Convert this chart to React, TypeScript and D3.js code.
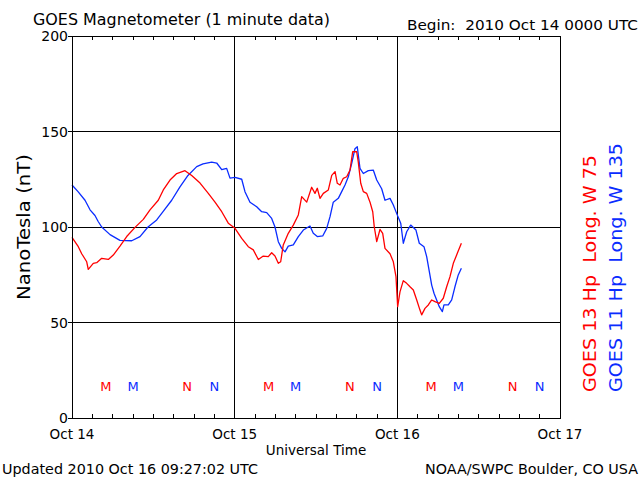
import React from "react";
import * as d3 from "d3";

// Hours since 2010 Oct 14 00:00 UTC and field values (nT)
const g13Hours = [0, 0.93, 1.43, 2.17, 2.4, 3.14, 3.64, 4.38, 5.36, 6.09, 7.08, 8.07, 9.3, 10.52, 11.51, 12.73, 13.47, 14.46, 15.45, 16.67, 17.66, 18.89, 20.11, 21.1, 22.09, 23.06, 24.05, 25.04, 26.01, 26.75, 27.49, 28.22, 28.96, 29.46, 29.95, 30.44, 30.79, 31.17, 31.91, 32.65, 33.39, 33.89, 34.63, 35.36, 35.85, 36.19, 36.59, 37.08, 37.82, 38.32, 38.81, 39.14, 39.54, 40.03, 40.53, 41.02, 41.41, 42.0, 42.24, 42.6, 42.98, 43.48, 43.97, 44.37, 44.6, 44.96, 45.44, 45.84, 46.18, 46.92, 47.41, 47.8, 48.05, 48.39, 48.88, 49.38, 49.87, 50.36, 50.86, 51.34, 51.59, 52.08, 52.57, 53.07, 53.56, 54.19, 54.78, 55.28, 55.77, 56.26, 56.85, 57.45];
const g13Values = [94.6, 89.7, 86, 81.8, 77.8, 81, 81.3, 83.6, 83, 85.3, 90, 95, 99.8, 104, 109, 114, 119.4, 124.6, 128, 129.5, 127, 123, 117.6, 113, 108, 102, 99.3, 94, 89.7, 88, 83, 84.8, 84.5, 86.5, 84.8, 81, 81.8, 90.6, 96.7, 101, 106.3, 115.9, 113, 120.8, 117.6, 120.3, 115, 117.6, 119.4, 127, 129, 122.9, 122, 125.5, 126.3, 129.8, 139.4, 139.4, 134, 122.9, 118.5, 117.6, 113, 108, 100, 92.3, 98.7, 96.7, 88.8, 86, 81.8, 74, 58.3, 66, 71.9, 70.5, 68.7, 67, 61.8, 56.5, 54, 57.4, 59.2, 61.8, 60.9, 60, 62.7, 68.7, 74, 81, 86.2, 91.5];

const g11Hours = [0, 0.89, 1.92, 2.66, 3.39, 3.84, 4.38, 5.61, 7.08, 8.81, 10.03, 11.21, 12.5, 13.43, 14.71, 15.93, 17.11, 18.4, 19.33, 20.61, 21.35, 22.09, 22.82, 23.31, 24.05, 25.04, 25.52, 26.26, 27.25, 27.99, 28.73, 29.46, 29.95, 30.44, 30.94, 31.43, 31.91, 32.65, 33.39, 34.13, 35.11, 35.6, 36.19, 36.99, 37.58, 38.07, 38.55, 39.29, 39.79, 40.28, 40.77, 41.27, 41.75, 42.09, 42.49, 42.98, 43.72, 44.45, 44.96, 45.69, 46.18, 46.92, 47.41, 47.91, 48.5, 48.88, 49.38, 49.97, 50.75, 51.24, 51.93, 52.33, 52.72, 53.07, 53.41, 53.8, 54.19, 54.64, 54.88, 55.52, 56.02, 56.5, 56.99, 57.45];
const g11Values = [122, 118.5, 114, 109, 106, 103, 100, 96, 93, 92.8, 95, 100, 103.7, 108, 114, 121, 127, 131.6, 133, 134, 133.5, 130, 130.7, 125.6, 126, 125, 118.5, 113, 110.6, 108, 107.5, 104.5, 100, 92.3, 88.8, 87, 90, 90.6, 95, 98.4, 100.5, 96.7, 95, 95.3, 99.3, 105.4, 113, 115, 118.5, 122, 126.3, 133.3, 141, 142, 130.7, 128, 129.5, 129.8, 124.6, 120, 114, 115, 111.5, 107, 102, 91.5, 97.5, 101, 98.4, 91.5, 89.7, 84.5, 76.6, 69.6, 65.3, 61.8, 58.3, 55.7, 59.2, 59.2, 61.8, 68.7, 74.9, 78.4];

const yTicks = [0, 50, 100, 150, 200];
const gridValues = [50, 100, 150];
const dayLabels = ["Oct 14", "Oct 15", "Oct 16", "Oct 17"];
// local midnight (M) and noon (N) in UT hours
const g13Markers = [{ label: "M", hour: 5 }, { label: "N", hour: 17 }];
const g11Markers = [{ label: "M", hour: 9 }, { label: "N", hour: 21 }];

const RED = "#ff0000";
const BLUE = "#0a2cff";
const FONT = "DejaVu Sans, sans-serif";
const PRE = { whiteSpace: "pre" as const };

export default function App() {
  const W = 640, H = 480;
  const left = 72, right = 560, top = 36, bottom = 418;
  const x = d3.scaleLinear().domain([0, 72]).range([left, right]);
  const y = d3.scaleLinear().domain([0, 200]).range([bottom, top]);

  const line = d3.line<[number, number]>().x(d => x(d[0])).y(d => y(d[1]));
  const red = line(g13Hours.map((h, i) => [h, g13Values[i]]));
  const blue = line(g11Hours.map((h, i) => [h, g11Values[i]]));

  const minorTicks = d3.range(3, 72, 3).filter(h => h % 24 !== 0);
  const days = [0, 1, 2];

  return (
    <svg width={W} height={H} style={{ position: "absolute", left: 0, top: 0, background: "#fff" }} fontFamily={FONT}>
      <rect x={0} y={0} width={W} height={H} fill="#fff" />
      {/* title */}
      <text x={33} y={25} fontSize={15} textLength={297} lengthAdjust="spacingAndGlyphs" style={PRE}>GOES Magnetometer (1 minute data)</text>
      <text x={407} y={30} fontSize={13.5} textLength={231} lengthAdjust="spacingAndGlyphs" style={PRE}>Begin:  2010 Oct 14 0000 UTC</text>

      {/* grid */}
      {gridValues.map(v => (
        <line key={"g" + v} x1={left} x2={right} y1={y(v)} y2={y(v)} stroke="#000" strokeWidth={1} shapeRendering="crispEdges" />
      ))}
      {[24, 48].map(h => (
        <line key={"v" + h} x1={x(h)} x2={x(h)} y1={top} y2={bottom} stroke="#000" strokeWidth={1} shapeRendering="crispEdges" />
      ))}
      {minorTicks.map(h => (
        <g key={"t" + h}>
          <line x1={x(h)} x2={x(h)} y1={top} y2={top + 4} stroke="#000" shapeRendering="crispEdges" />
          <line x1={x(h)} x2={x(h)} y1={bottom} y2={bottom - 4} stroke="#000" shapeRendering="crispEdges" />
        </g>
      ))}
      {/* y ticks */}
      {yTicks.map(v => (
        <g key={"y" + v}>
          <line x1={left - 4} x2={left} y1={y(v)} y2={y(v)} stroke="#000" shapeRendering="crispEdges" />
          <text x={left - 4} y={y(v) + 5} fontSize={14} textAnchor="end">{v}</text>
        </g>
      ))}
      <text transform={`translate(30,${(top + bottom) / 2}) rotate(-90)`} fontSize={17} textAnchor="middle" textLength={146} lengthAdjust="spacingAndGlyphs">NanoTesla (nT)</text>

      {/* x labels */}
      {dayLabels.map((d, i) => (
        <text key={d} x={x(i * 24)} y={439} fontSize={13.5} textAnchor="middle">{d}</text>
      ))}
      <text x={316} y={455} fontSize={13.5} textAnchor="middle">Universal Time</text>

      {/* data */}
      <path d={blue ?? ""} fill="none" stroke={BLUE} strokeWidth={1.3} strokeLinejoin="round" />
      <path d={red ?? ""} fill="none" stroke={RED} strokeWidth={1.3} strokeLinejoin="round" />

      {/* markers */}
      {days.map(dd => (
        <g key={"m" + dd}>
          {g13Markers.map(m => (
            <text key={"r" + m.label} x={x(dd * 24 + m.hour)} y={391} fontSize={13} fill={RED} textAnchor="middle">{m.label}</text>
          ))}
          {g11Markers.map(m => (
            <text key={"b" + m.label} x={x(dd * 24 + m.hour)} y={391} fontSize={13} fill={BLUE} textAnchor="middle">{m.label}</text>
          ))}
        </g>
      ))}

      {/* frame */}
      <rect x={left} y={top} width={right - left} height={bottom - top} fill="none" stroke="#000" strokeWidth={1} shapeRendering="crispEdges" />

      {/* right legends */}
      <text transform={`translate(596,392) rotate(-90)`} fontSize={17} fill={RED} textLength={237} lengthAdjust="spacingAndGlyphs" style={PRE}>GOES 13 Hp  Long. W 75</text>
      <text transform={`translate(622,392) rotate(-90)`} fontSize={17} fill={BLUE} textLength={249} lengthAdjust="spacingAndGlyphs" style={PRE}>GOES 11 Hp  Long. W 135</text>

      {/* footer */}
      <text x={2} y={474} fontSize={14} textLength={256} lengthAdjust="spacingAndGlyphs">Updated 2010 Oct 16 09:27:02 UTC</text>
      <text x={425} y={474} fontSize={14} textLength={213} lengthAdjust="spacingAndGlyphs">NOAA/SWPC Boulder, CO USA</text>
    </svg>
  );
}
